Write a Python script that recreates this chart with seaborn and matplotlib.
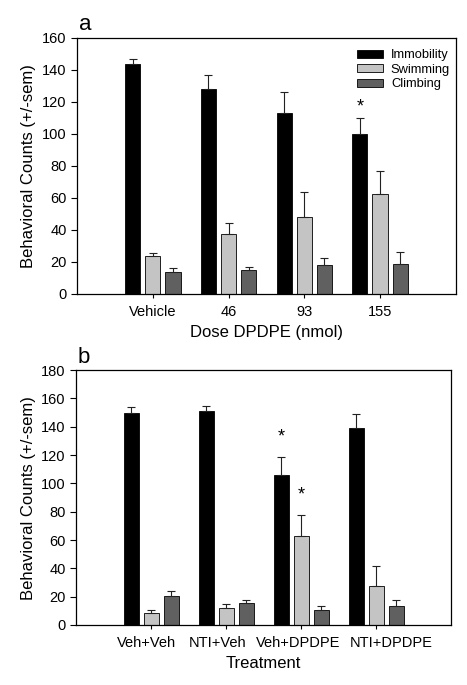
import numpy as np
import pandas as pd
import matplotlib
matplotlib.use("Agg")
import matplotlib.pyplot as plt
import matplotlib.transforms as mtransforms
import seaborn as sns

# ---------------------------------------------------------------------------
# Data
# ---------------------------------------------------------------------------
behaviours = ["Immobility", "Swimming", "Climbing"]
colors = ["#000000", "#c4c4c4", "#606060"]

doses = ["Vehicle", "46", "93", "155"]
dose_immobility = [143.3, 128.1, 113.1, 100.1]
dose_immobility_sem = [3.1, 8.7, 13.1, 9.8]
dose_swimming = [23.6, 37.1, 48.0, 62.4]
dose_swimming_sem = [1.8, 7.3, 15.4, 14.2]
dose_climbing = [13.6, 14.8, 17.9, 18.8]
dose_climbing_sem = [2.3, 2.1, 4.2, 7.1]
dose_stars = [("155", "Immobility", 117)]

treatments = ["Veh+Veh", "NTI+Veh", "Veh+DPDPE", "NTI+DPDPE"]
trt_immobility = [149.4, 151.3, 105.9, 138.8]
trt_immobility_sem = [4.5, 3.1, 12.5, 10.1]
trt_swimming = [8.7, 12.0, 62.8, 27.5]
trt_swimming_sem = [1.9, 2.8, 15.1, 14.1]
trt_climbing = [20.2, 15.8, 10.6, 13.2]
trt_climbing_sem = [3.8, 2.1, 2.8, 4.7]
trt_stars = [("Veh+DPDPE", "Immobility", 133), ("Veh+DPDPE", "Swimming", 92)]
# the original's treatment labels sit a little off their groups (pixels)
trt_label_shift = [-5, -9, -3, 15]


def long_frame(cats, means, sems):
    rows = []
    for beh, m, s in zip(behaviours, means, sems):
        for c, v, e in zip(cats, m, s):
            rows.append({"group": c, "behaviour": beh, "count": v, "sem": e})
    return pd.DataFrame(rows)


def draw_panel(ax, df, cats, stars, ymax, xlabel, letter, show_legend):
    sns.barplot(
        data=df, x="group", y="count", hue="behaviour",
        order=cats, hue_order=behaviours, palette=colors,
        errorbar=None, gap=0.25, edgecolor="black", linewidth=0.6,
        legend=show_legend, ax=ax,
    )
    # upper-only error bars, placed at the bar centres seaborn produced
    centres = {}
    for beh, cont in zip(behaviours, ax.containers):
        sub = df[df["behaviour"] == beh].set_index("group").loc[cats]
        xs = [b.get_x() + b.get_width() / 2 for b in cont]
        for c, x in zip(cats, xs):
            centres[(c, beh)] = x
        ax.errorbar(
            xs, sub["count"], yerr=[np.zeros(len(xs)), sub["sem"]],
            fmt="none", ecolor="#222222", elinewidth=0.8, capsize=3, capthick=0.8,
        )
    for c, beh, y in stars:
        ax.text(centres[(c, beh)], y, "*", ha="center", va="center", fontsize=13)

    ax.set_xlim(-1, len(cats))
    ax.set_ylim(0, ymax)
    ax.set_yticks(np.arange(0, ymax + 1, 20))
    ax.set_xlabel(xlabel, fontsize=12, labelpad=4)
    ax.set_ylabel("Behavioral Counts (+/-sem)", fontsize=12, labelpad=4)
    ax.tick_params(axis="both", direction="out", length=4, width=0.8,
                   labelsize=10.5, color="black", labelcolor="black",
                   bottom=True, left=True)
    ax.tick_params(axis="x", length=3, pad=5)
    for sp in ax.spines.values():
        sp.set_visible(True)
        sp.set_color("black")
        sp.set_linewidth(0.9)
    ax.text(0.005, 1.01, letter, transform=ax.transAxes, fontsize=16,
            ha="left", va="bottom")
    if show_legend:
        ax.legend(loc="upper right", frameon=False, fontsize=9.3,
                  handlelength=2.0, handleheight=0.55, handletextpad=0.6,
                  labelspacing=0.2, borderaxespad=0.4, bbox_to_anchor=(1.012, 0.995))


sns.set_theme(style="white")
plt.rcParams["font.family"] = ["Liberation Sans", "DejaVu Sans"]
plt.rcParams["text.color"] = "black"
plt.rcParams["axes.labelcolor"] = "black"

fig = plt.figure(figsize=(4.67, 6.85), dpi=100)
ax_a = fig.add_axes([0.165, 0.571, 0.811, 0.374])
ax_b = fig.add_axes([0.163, 0.0876, 0.803, 0.372])

df_a = long_frame(doses,
                  [dose_immobility, dose_swimming, dose_climbing],
                  [dose_immobility_sem, dose_swimming_sem, dose_climbing_sem])
df_b = long_frame(treatments,
                  [trt_immobility, trt_swimming, trt_climbing],
                  [trt_immobility_sem, trt_swimming_sem, trt_climbing_sem])

draw_panel(ax_a, df_a, doses, dose_stars, 160, "Dose DPDPE (nmol)", "a", True)
draw_panel(ax_b, df_b, treatments, trt_stars, 180, "Treatment", "b", False)

for lab, dx in zip(ax_b.get_xticklabels(), trt_label_shift):
    lab.set_transform(lab.get_transform() +
                      mtransforms.ScaledTranslation(dx / 100, 0, fig.dpi_scale_trans))

fig.savefig("out.png", dpi=100)
